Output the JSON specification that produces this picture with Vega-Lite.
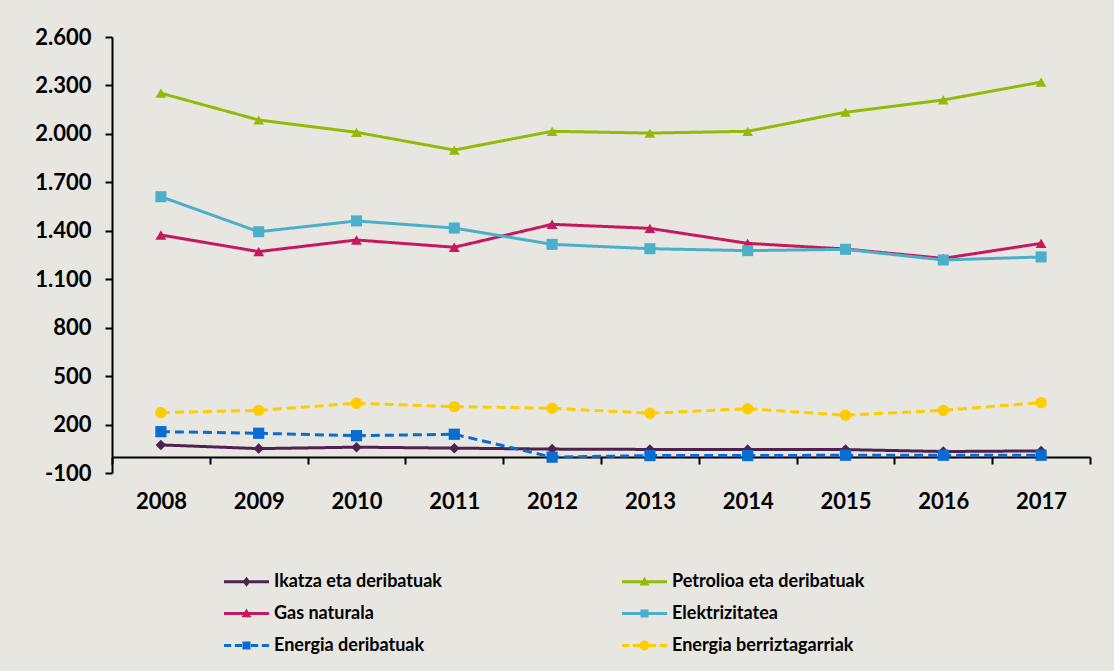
{
  "$schema": "https://vega.github.io/schema/vega-lite/v6.json",
  "width": 978,
  "height": 436,
  "autosize": "none",
  "padding": {"left": 112, "top": 37, "right": 24, "bottom": 198},
  "background": "#e8e6e1",
  "config": {
    "view": {"stroke": null},
    "axis": {"labelFont": "Lato", "labelFontSize": 22, "labelFontWeight": "bold", "labelColor": "#000000", "domainColor": "#000000", "tickColor": "#000000", "domainWidth": 2, "tickWidth": 2, "grid": false, "title": null}
  },
  "data": {
    "values": [
      {"series": "Ikatza eta deribatuak", "year": 2008, "value": 74},
      {"series": "Ikatza eta deribatuak", "year": 2009, "value": 51},
      {"series": "Ikatza eta deribatuak", "year": 2010, "value": 60},
      {"series": "Ikatza eta deribatuak", "year": 2011, "value": 54},
      {"series": "Ikatza eta deribatuak", "year": 2012, "value": 48},
      {"series": "Ikatza eta deribatuak", "year": 2013, "value": 46},
      {"series": "Ikatza eta deribatuak", "year": 2014, "value": 45},
      {"series": "Ikatza eta deribatuak", "year": 2015, "value": 45},
      {"series": "Ikatza eta deribatuak", "year": 2016, "value": 33},
      {"series": "Ikatza eta deribatuak", "year": 2017, "value": 37},
      {"series": "Petrolioa eta deribatuak", "year": 2008, "value": 2252},
      {"series": "Petrolioa eta deribatuak", "year": 2009, "value": 2086},
      {"series": "Petrolioa eta deribatuak", "year": 2010, "value": 2010},
      {"series": "Petrolioa eta deribatuak", "year": 2011, "value": 1900},
      {"series": "Petrolioa eta deribatuak", "year": 2012, "value": 2016},
      {"series": "Petrolioa eta deribatuak", "year": 2013, "value": 2005},
      {"series": "Petrolioa eta deribatuak", "year": 2014, "value": 2016},
      {"series": "Petrolioa eta deribatuak", "year": 2015, "value": 2134},
      {"series": "Petrolioa eta deribatuak", "year": 2016, "value": 2210},
      {"series": "Petrolioa eta deribatuak", "year": 2017, "value": 2321},
      {"series": "Gas naturala", "year": 2008, "value": 1374},
      {"series": "Gas naturala", "year": 2009, "value": 1271},
      {"series": "Gas naturala", "year": 2010, "value": 1343},
      {"series": "Gas naturala", "year": 2011, "value": 1298},
      {"series": "Gas naturala", "year": 2012, "value": 1440},
      {"series": "Gas naturala", "year": 2013, "value": 1415},
      {"series": "Gas naturala", "year": 2014, "value": 1322},
      {"series": "Gas naturala", "year": 2015, "value": 1287},
      {"series": "Gas naturala", "year": 2016, "value": 1229},
      {"series": "Gas naturala", "year": 2017, "value": 1322},
      {"series": "Elektrizitatea", "year": 2008, "value": 1611},
      {"series": "Elektrizitatea", "year": 2009, "value": 1394},
      {"series": "Elektrizitatea", "year": 2010, "value": 1461},
      {"series": "Elektrizitatea", "year": 2011, "value": 1417},
      {"series": "Elektrizitatea", "year": 2012, "value": 1316},
      {"series": "Elektrizitatea", "year": 2013, "value": 1289},
      {"series": "Elektrizitatea", "year": 2014, "value": 1277},
      {"series": "Elektrizitatea", "year": 2015, "value": 1285},
      {"series": "Elektrizitatea", "year": 2016, "value": 1219},
      {"series": "Elektrizitatea", "year": 2017, "value": 1238},
      {"series": "Energia deribatuak", "year": 2008, "value": 156},
      {"series": "Energia deribatuak", "year": 2009, "value": 146},
      {"series": "Energia deribatuak", "year": 2010, "value": 131},
      {"series": "Energia deribatuak", "year": 2011, "value": 140},
      {"series": "Energia deribatuak", "year": 2012, "value": -2},
      {"series": "Energia deribatuak", "year": 2013, "value": 8},
      {"series": "Energia deribatuak", "year": 2014, "value": 8},
      {"series": "Energia deribatuak", "year": 2015, "value": 10},
      {"series": "Energia deribatuak", "year": 2016, "value": 10},
      {"series": "Energia deribatuak", "year": 2017, "value": 10},
      {"series": "Energia berriztagarriak", "year": 2008, "value": 274},
      {"series": "Energia berriztagarriak", "year": 2009, "value": 288},
      {"series": "Energia berriztagarriak", "year": 2010, "value": 332},
      {"series": "Energia berriztagarriak", "year": 2011, "value": 311},
      {"series": "Energia berriztagarriak", "year": 2012, "value": 301},
      {"series": "Energia berriztagarriak", "year": 2013, "value": 270},
      {"series": "Energia berriztagarriak", "year": 2014, "value": 298},
      {"series": "Energia berriztagarriak", "year": 2015, "value": 258},
      {"series": "Energia berriztagarriak", "year": 2016, "value": 288},
      {"series": "Energia berriztagarriak", "year": 2017, "value": 336}
    ]
  },
  "layer": [
    {
      "mark": {"type": "line", "strokeWidth": 3},
      "encoding": {
        "x": {
          "field": "year", "type": "quantitative",
          "scale": {"domain": [2007.5, 2017.5], "nice": false, "zero": false},
          "axis": {"orient": "bottom", "values": [2008, 2009, 2010, 2011, 2012, 2013, 2014, 2015, 2016, 2017], "format": "d", "tickSize": 0, "domain": false, "labelPadding": 18}
        },
        "y": {
          "field": "value", "type": "quantitative",
          "scale": {"domain": [-100, 2600], "nice": false, "zero": false},
          "axis": {"values": [-100, 200, 500, 800, 1100, 1400, 1700, 2000, 2300, 2600], "tickSize": 7, "labelPadding": 14, "labelExpr": "replace(replace(format(datum.value, ','), ',', '.'), '\u2212', '-')"}
        },
        "color": {
          "field": "series", "type": "nominal",
          "scale": {"domain": ["Ikatza eta deribatuak", "Petrolioa eta deribatuak", "Gas naturala", "Elektrizitatea", "Energia deribatuak", "Energia berriztagarriak"], "range": ["#4f2150", "#95b90b", "#c41a5d", "#4bafc9", "#0a6bd1", "#ffcc00"]},
          "legend": null
        },
        "strokeDash": {
          "field": "series", "type": "nominal",
          "scale": {"domain": ["Ikatza eta deribatuak", "Petrolioa eta deribatuak", "Gas naturala", "Elektrizitatea", "Energia deribatuak", "Energia berriztagarriak"], "range": [[1, 0], [1, 0], [1, 0], [1, 0], [9, 5], [9, 5]]},
          "legend": null
        }
      }
    },
    {
      "mark": {"type": "point", "filled": true, "opacity": 1},
      "encoding": {
        "x": {
          "field": "year", "type": "quantitative",
          "axis": {"orient": "bottom", "values": [2007.5, 2008.5, 2009.5, 2010.5, 2011.5, 2012.5, 2013.5, 2014.5, 2015.5, 2016.5, 2017.5], "labels": false, "tickSize": 7, "domain": true, "offset": -16}
        },
        "y": {"field": "value", "type": "quantitative"},
        "color": {
          "field": "series", "type": "nominal",
          "scale": {"domain": ["Ikatza eta deribatuak", "Petrolioa eta deribatuak", "Gas naturala", "Elektrizitatea", "Energia deribatuak", "Energia berriztagarriak"], "range": ["#4f2150", "#95b90b", "#c41a5d", "#4bafc9", "#0a6bd1", "#ffcc00"]},
          "legend": null
        },
        "shape": {
          "field": "series", "type": "nominal",
          "scale": {"domain": ["Ikatza eta deribatuak", "Petrolioa eta deribatuak", "Gas naturala", "Elektrizitatea", "Energia deribatuak", "Energia berriztagarriak"], "range": ["diamond", "triangle-up", "triangle-up", "square", "square", "circle"]},
          "legend": null
        },
        "size": {
          "field": "series", "type": "nominal",
          "scale": {"domain": ["Ikatza eta deribatuak", "Petrolioa eta deribatuak", "Gas naturala", "Elektrizitatea", "Energia deribatuak", "Energia berriztagarriak"], "range": [110, 130, 130, 95, 95, 165]},
          "legend": null
        }
      }
    },
    {
      "mark": {"type": "point", "filled": true, "opacity": 0},
      "encoding": {
        "x": {"field": "year", "type": "quantitative", "axis": null},
        "y": {"field": "value", "type": "quantitative"},
        "color": {
          "field": "series", "type": "nominal",
          "scale": {"domain": ["Ikatza eta deribatuak", "Gas naturala", "Energia deribatuak", "Petrolioa eta deribatuak", "Elektrizitatea", "Energia berriztagarriak"], "range": ["#4f2150", "#c41a5d", "#0a6bd1", "#95b90b", "#4bafc9", "#ffcc00"]},
          "legend": {
            "orient": "none", "legendX": 112, "legendY": 522, "columns": 2, "columnPadding": 180, "rowPadding": -7, "padding": 0, "title": null,
            "symbolSize": 2025, "symbolStrokeWidth": 0, "symbolOpacity": 1,
            "labelFont": "Lato", "labelFontSize": 18, "labelFontWeight": "bold", "labelColor": "#000000", "labelOffset": 5, "labelLimit": 500
          }
        },
        "shape": {
          "field": "series", "type": "nominal",
          "scale": {"domain": ["Ikatza eta deribatuak", "Gas naturala", "Energia deribatuak", "Petrolioa eta deribatuak", "Elektrizitatea", "Energia berriztagarriak"], "range": [
            "M-1,-0.07H1V0.07H-1ZM0,-0.22L0.17,0L0,0.22L-0.17,0Z",
            "M-1,-0.07H1V0.07H-1ZM0,-0.22L0.22,0.17L-0.22,0.17Z",
            "M-1,-0.07H-0.68V0.07H-1ZM-0.52,-0.07H-0.2V0.07H-0.52ZM0.2,-0.07H0.52V0.07H0.2ZM0.68,-0.07H1V0.07H0.68ZM-0.18,-0.18H0.18V0.18H-0.18Z",
            "M-1,-0.07H1V0.07H-1ZM0,-0.22L0.22,0.17L-0.22,0.17Z",
            "M-1,-0.07H1V0.07H-1ZM-0.18,-0.18H0.18V0.18H-0.18Z",
            "M-1,-0.07H-0.68V0.07H-1ZM-0.52,-0.07H-0.2V0.07H-0.52ZM0.2,-0.07H0.52V0.07H0.2ZM0.68,-0.07H1V0.07H0.68ZM-0.22,0A0.22,0.22,0,1,1,0.22,0A0.22,0.22,0,1,1,-0.22,0Z"
          ]},
          "legend": {
            "orient": "none", "legendX": 112, "legendY": 522, "columns": 2, "columnPadding": 180, "rowPadding": -7, "padding": 0, "title": null,
            "symbolSize": 2025, "symbolStrokeWidth": 0, "symbolOpacity": 1,
            "labelFont": "Lato", "labelFontSize": 18, "labelFontWeight": "bold", "labelColor": "#000000", "labelOffset": 5, "labelLimit": 500
          }
        }
      }
    }
  ],
  "resolve": {"scale": {"color": "independent", "shape": "independent", "size": "independent"}, "axis": {"x": "independent"}}
}
